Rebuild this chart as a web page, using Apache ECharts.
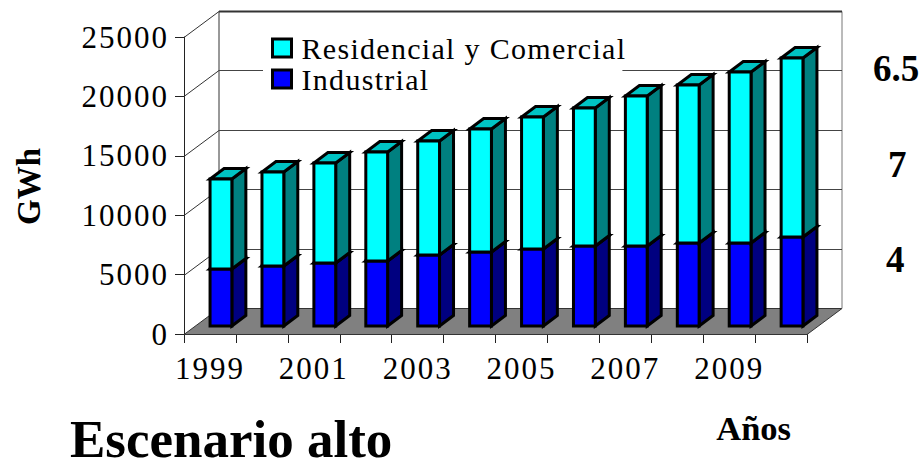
<!DOCTYPE html>
<html>
<head>
<meta charset="utf-8">
<style>
html,body{margin:0;padding:0;background:#fff}
#chart{width:920px;height:466px;letter-spacing:2px}
#chart text[style*="bold"]{letter-spacing:0}
#chart text[style*="30px"]{letter-spacing:1.3px}
</style>
<script src="https://cdn.jsdelivr.net/npm/echarts@6/dist/echarts.min.js"></script>
</head>
<body>
<div id="chart"></div>
<script>
var categories = ['1999','2000','2001','2002','2003','2004','2005','2006','2007','2008','2009','2010'];
var industrial = [4800,5050,5300,5470,5980,6230,6480,6730,6730,6990,6990,7490];
var residencial = [7570,7910,8420,9180,9590,10350,11110,11620,12630,13300,14390,15070];
var yTicks = [0,5000,10000,15000,20000,25000];
var NAME_RES = 'Residencial y Comercial';
var NAME_IND = 'Industrial';
var SERIF = '"Liberation Serif", "Times New Roman", serif';

// Oblique projection of the pseudo-3D box, in pixels
var WALL_DX = 35, WALL_DY = -26;    // depth of the whole plot box
var BAR_FRONT_DX = 11, BAR_FRONT_DY = -8; // where the front of a bar sits
var BAR_DX = 14, BAR_DY = -10.5;    // depth of a bar
var BAR_RATIO = 0.42;

function buildRows(lower, height){
  return categories.map(function(c,i){
    var base = lower ? lower[i] : 0;
    return [i, base, base + height[i]];
  });
}
function renderBar(front, side, top){
  return function(params, api){
    var i = api.value(0);
    var p0 = api.coord([i, api.value(1)]);
    var p1 = api.coord([i, api.value(2)]);
    var w = api.size([1,0])[0] * BAR_RATIO;
    var xl = p0[0] + BAR_FRONT_DX - w/2, xr = xl + w;
    var yb = p0[1] + BAR_FRONT_DY, yt = p1[1] + BAR_FRONT_DY;
    var ln = {stroke:'#000', lineWidth:3, lineJoin:'miter'};
    function poly(points, fill){
      return {type:'polygon', shape:{points:points}, style:Object.assign({fill:fill}, ln), silent:true};
    }
    return {type:'group', children:[
      poly([[xr,yb],[xr+BAR_DX,yb+BAR_DY],[xr+BAR_DX,yt+BAR_DY],[xr,yt]], side),
      poly([[xl,yt],[xr,yt],[xr+BAR_DX,yt+BAR_DY],[xl+BAR_DX,yt+BAR_DY]], top),
      poly([[xl,yb],[xr,yb],[xr,yt],[xl,yt]], front)
    ]};
  };
}
function renderWall(params, api){
  var v = api.value(0);
  var rect = params.coordSys;
  var xa = rect.x, xb = rect.x + rect.width;
  var y = Math.round(api.coord([0, v])[1]) + 0.5;
  var topY = Math.round(api.coord([0, yTicks[yTicks.length-1]])[1]) + 0.5;
  var thin = {stroke:'#333', lineWidth:1};
  var kids = [];
  if (v === 0) {
    kids.push({type:'polygon', shape:{points:[[xa,y],[xb,y],[xb+WALL_DX,y+WALL_DY],[xa+WALL_DX,y+WALL_DY]]},
      style:{fill:'#808080', stroke:'#333', lineWidth:1}});
    kids.push({type:'line', shape:{x1:xa+WALL_DX,y1:y+WALL_DY,x2:xa+WALL_DX,y2:topY+WALL_DY}, style:thin});
    kids.push({type:'line', shape:{x1:xb+WALL_DX,y1:y+WALL_DY,x2:xb+WALL_DX,y2:topY+WALL_DY}, style:{stroke:'#777',lineWidth:1}});
  } else {
    kids.push({type:'line', shape:{x1:xa,y1:y,x2:xa+WALL_DX,y2:y+WALL_DY}, style:thin});
    kids.push({type:'line', shape:{x1:xa+WALL_DX,y1:y+WALL_DY,x2:xb+WALL_DX,y2:y+WALL_DY},
      style:{stroke: v === 25000 ? '#333' : '#444', lineWidth: v === 25000 ? 2 : 1}});
  }
  return {type:'group', children:kids, silent:true};
}

var chart = echarts.init(document.getElementById('chart'), null, {renderer:'svg'});
chart.setOption({
  animation:false,
  backgroundColor:'#fff',
  textStyle:{fontFamily:SERIF},
  grid:{left:184, right:113, top:37, bottom:132, containLabel:false},
  title:{text:'Escenario alto', left:70, top:412, padding:0,
    textStyle:{fontFamily:SERIF, fontWeight:'bold', fontSize:53, color:'#000'}},
  legend:{
    orient:'vertical', left:263, top:33, icon:'rect', itemWidth:19, itemHeight:18, itemGap:1,
    padding:[0,26,0,8], backgroundColor:'#fff',
    data:[NAME_RES, NAME_IND],
    selectedMode:false,
    itemStyle:{borderColor:'#000', borderWidth:3},
    textStyle:{fontFamily:SERIF, fontSize:30, lineHeight:20, color:'#000', padding:[0,0,8,5]}
  },
  xAxis:{
    type:'category', data:categories, boundaryGap:true,
    name:'Años', nameLocation:'end', nameGap:-16,
    nameTextStyle:{fontFamily:SERIF, fontWeight:'bold', fontSize:34.5, color:'#000', align:'right', verticalAlign:'top', padding:[76,0,0,0]},
    axisLine:{show:true, lineStyle:{color:'#222', width:1}},
    axisTick:{show:true, length:9, alignWithLabel:false, interval:0, lineStyle:{color:'#222'}},
    axisLabel:{interval:1, fontFamily:SERIF, fontSize:31, color:'#000', margin:19},
    splitLine:{show:false}
  },
  yAxis:{
    type:'value', min:0, max:25000, interval:5000,
    name:'GWh', nameLocation:'middle', nameGap:139, nameRotate:90,
    nameTextStyle:{fontFamily:SERIF, fontWeight:'bold', fontSize:33, color:'#000', padding:[0,2,0,0]},
    axisLine:{show:true, lineStyle:{color:'#222', width:1}},
    axisTick:{show:true, length:9, lineStyle:{color:'#222'}},
    axisLabel:{fontFamily:SERIF, fontSize:31, color:'#000', margin:15, padding:[0,0,2,0],
      formatter:function(v){return String(v);}},
    splitLine:{show:false}
  },
  graphic:[
    {type:'text', left:873, top:50, style:{text:'6.5', font:'bold 37px '+SERIF, fill:'#000'}},
    {type:'text', left:888, top:146, style:{text:'7', font:'bold 37px '+SERIF, fill:'#000'}},
    {type:'text', left:886, top:241, style:{text:'4', font:'bold 37px '+SERIF, fill:'#000'}}
  ],
  series:[
    {type:'custom', name:'wall', data:yTicks.map(function(v){return [v];}), renderItem:renderWall, z:1, silent:true, clip:false,
     encode:{y:0}},
    {type:'custom', name:NAME_IND, data:buildRows(null, industrial), renderItem:renderBar('#0000ff','#000080','#0000c0'),
     itemStyle:{color:'#0000ff'}, z:2, clip:false, encode:{x:0,y:[1,2]}},
    {type:'custom', name:NAME_RES, data:buildRows(industrial, residencial), renderItem:renderBar('#00ffff','#008080','#00c4c4'),
     itemStyle:{color:'#00ffff'}, z:3, clip:false, encode:{x:0,y:[1,2]}}
  ]
});
</script>
</body>
</html>
